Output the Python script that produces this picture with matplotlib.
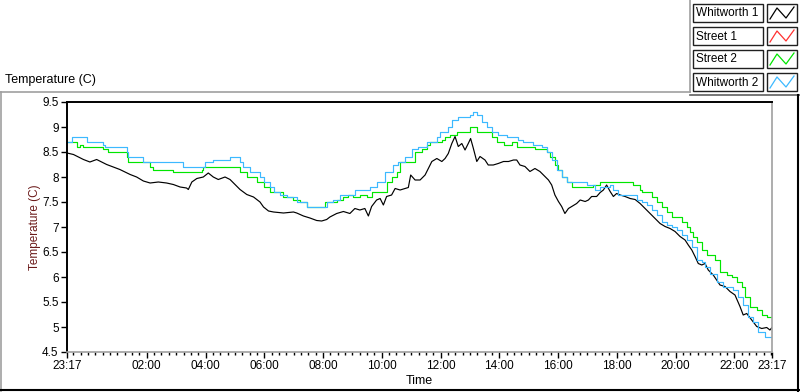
"""Temperature chart: four loggers over one day (LabVIEW-style waveform chart)."""
import matplotlib

matplotlib.use("Agg")
import matplotlib.pyplot as plt  # noqa: E402
import numpy as np  # noqa: E402
from matplotlib.lines import Line2D  # noqa: E402
from matplotlib.patches import Rectangle  # noqa: E402

# ---- data: hours since 23:17 -------------------------------------------
whit1_hours = [0, 0.22, 0.56, 0.78, 1.01, 1.35, 1.58, 1.80, 2.15, 2.37, 2.60, 2.83,
               3.11, 3.39, 3.62, 3.85, 4.07, 4.13, 4.25, 4.42, 4.64, 4.81, 4.98, 5.15,
               5.38, 5.55, 5.72, 5.89, 6.12, 6.35, 6.57, 6.69, 6.86, 7.03, 7.37, 7.71,
               7.82, 8.05, 8.27, 8.50, 8.67, 8.84, 8.95, 9.18, 9.41, 9.63, 9.80, 9.97,
               10.14, 10.26, 10.37, 10.54, 10.66, 10.77, 10.88, 11.05, 11.17, 11.34,
               11.51, 11.62, 11.70, 11.85, 12.02, 12.19, 12.30, 12.42, 12.59, 12.76,
               12.87, 12.98, 13.10, 13.21, 13.32, 13.44, 13.55, 13.66, 13.74, 13.83,
               13.95, 14.06, 14.23, 14.34, 14.51, 14.68, 14.86, 15.03, 15.20, 15.31,
               15.42, 15.59, 15.76, 15.93, 16.10, 16.22, 16.39, 16.50, 16.61, 16.73,
               16.84, 16.95, 17.07, 17.18, 17.35, 17.47, 17.64, 17.75, 17.86, 18.03,
               18.15, 18.26, 18.37, 18.49, 18.60, 18.71, 18.83, 19.00, 19.17, 19.34,
               19.51, 19.68, 19.85, 20.02, 20.19, 20.36, 20.53, 20.70, 20.87, 21.04,
               21.15, 21.27, 21.38, 21.49, 21.61, 21.72, 21.83, 22.00, 22.23, 22.40,
               22.57, 22.74, 22.91, 23.02, 23.14, 23.31, 23.48, 23.65, 23.82, 23.93, 24.0]
whit1_temp = [8.48, 8.45, 8.35, 8.30, 8.35, 8.25, 8.20, 8.15, 8.05, 8.00, 7.92, 7.88,
              7.90, 7.88, 7.85, 7.80, 7.78, 7.75, 7.90, 7.97, 8.00, 8.08, 8.00, 7.95,
              8.00, 7.95, 7.85, 7.75, 7.65, 7.60, 7.50, 7.40, 7.32, 7.30, 7.28, 7.30,
              7.28, 7.22, 7.18, 7.13, 7.12, 7.15, 7.20, 7.27, 7.31, 7.27, 7.37, 7.34,
              7.37, 7.22, 7.41, 7.54, 7.57, 7.44, 7.61, 7.64, 7.77, 7.74,
              7.77, 7.79, 8.04, 7.94, 7.94, 8.04, 8.17, 8.31, 8.37, 8.31,
              8.37, 8.47, 8.67, 8.81, 8.61, 8.67, 8.54, 8.67, 8.77, 8.58,
              8.31, 8.41, 8.34, 8.24, 8.24, 8.27, 8.31, 8.31, 8.34, 8.34,
              8.24, 8.21, 8.11, 8.17, 8.11, 8.04, 7.94, 7.84, 7.64, 7.51,
              7.41, 7.27, 7.37, 7.41, 7.47, 7.54, 7.51, 7.54, 7.61, 7.61,
              7.69, 7.74, 7.84, 7.71, 7.61, 7.67, 7.64, 7.61, 7.57, 7.55,
              7.47, 7.37, 7.27, 7.17, 7.07, 7.01, 6.97, 6.91, 6.81, 6.74,
              6.64, 6.54, 6.41, 6.27, 6.24, 6.27, 6.14, 6.04, 5.84, 5.81,
              5.71, 5.64, 5.41, 5.24, 5.27, 5.14, 5.01, 4.97, 4.99, 4.94, 4.99]

street1_hours = []
street1_temp = []

street2_hours = [0, 0.33, 0.44, 0.56, 1.24, 1.41, 2.03, 2.09, 2.83, 2.94, 3.62, 4.59,
                 4.64, 5.89, 6.12, 6.46, 6.69, 6.91, 7.37, 7.71, 7.93, 8.16, 8.79, 9.18,
                 9.41, 9.58, 9.75, 9.97, 10.20, 10.37, 10.88, 11.05, 11.22, 11.34, 11.85,
                 12.07, 12.25, 12.36, 12.76, 12.87, 13.04, 13.27, 13.72, 13.95, 14.46,
                 14.63, 14.86, 15.14, 15.31, 15.93, 16.33, 16.44, 16.61, 16.73, 16.84,
                 17.01, 17.18, 17.92, 18.15, 19.28, 19.51, 19.56, 19.90, 20.07, 20.24,
                 20.42, 20.59, 20.93, 21.10, 21.21, 21.32, 21.44, 21.61, 21.78, 22.06,
                 22.23, 22.46, 22.63, 22.80, 22.97, 23.08, 23.25, 23.48, 23.65, 23.82, 24.0]
street2_temp = [8.70, 8.60, 8.65, 8.60, 8.55, 8.50, 8.40, 8.30, 8.20, 8.15, 8.10, 8.15,
                8.20, 8.10, 8.00, 7.90, 7.80, 7.70, 7.60, 7.55, 7.50, 7.40, 7.50, 7.55,
                7.60, 7.65, 7.60, 7.65, 7.60, 7.70, 7.90, 8.00, 8.10, 8.30, 8.50,
                8.55, 8.65, 8.70, 8.75, 8.80, 8.85, 8.90, 9.00, 8.90, 8.80,
                8.70, 8.65, 8.70, 8.60, 8.55, 8.50, 8.40, 8.25, 8.15, 8.00,
                7.90, 7.80, 7.85, 7.90, 7.85, 7.75, 7.70, 7.60, 7.50, 7.40,
                7.30, 7.20, 7.10, 7.00, 6.90, 6.80, 6.70, 6.55, 6.45, 6.35,
                6.10, 6.05, 6.00, 5.90, 5.80, 5.60, 5.40, 5.35, 5.25, 5.20, 5.20]

whit2_hours = [0, 0.16, 0.67, 1.24, 1.29, 2.05, 2.09, 2.60, 3.96, 4.70, 4.98, 5.55,
               5.89, 6.00, 6.23, 6.57, 6.69, 6.91, 7.03, 7.25, 7.48, 7.82, 8.16, 8.84,
               9.07, 9.30, 9.80, 10.32, 10.54, 10.83, 11.11, 11.28, 11.51, 11.73, 11.96,
               12.25, 12.59, 12.70, 12.98, 13.10, 13.32, 13.72, 13.83, 13.95, 14.12,
               14.29, 14.46, 14.68, 14.97, 15.37, 15.54, 15.88, 16.16, 16.33, 16.50,
               16.67, 16.84, 17.01, 17.69, 17.98, 18.15, 18.49, 18.60, 18.77, 19.39,
               19.56, 19.73, 19.90, 20.07, 20.24, 20.42, 20.59, 20.76, 20.93, 21.10,
               21.27, 21.44, 21.61, 21.72, 21.89, 22.12, 22.34, 22.68, 22.85, 23.02,
               23.19, 23.36, 23.54, 23.76, 24.0]
whit2_temp = [8.70, 8.80, 8.70, 8.65, 8.60, 8.50, 8.40, 8.30, 8.20, 8.30, 8.35, 8.40,
              8.30, 8.20, 8.10, 8.00, 7.90, 7.80, 7.70, 7.65, 7.60, 7.50, 7.40, 7.50,
              7.55, 7.65, 7.75, 7.80, 7.90, 8.10, 8.25, 8.30, 8.40, 8.55, 8.60,
              8.70, 8.80, 8.90, 9.00, 9.15, 9.20, 9.25, 9.30, 9.25, 9.10,
              9.00, 8.90, 8.85, 8.80, 8.75, 8.70, 8.65, 8.60, 8.50, 8.35,
              8.15, 8.00, 7.90, 7.85, 7.75, 7.80, 7.85, 7.75, 7.65, 7.55,
              7.50, 7.45, 7.35, 7.25, 7.10, 7.05, 7.00, 6.95, 6.85, 6.75,
              6.60, 6.35, 6.30, 6.20, 6.07, 5.90, 5.80, 5.75, 5.60, 5.45,
              5.20, 5.10, 4.90, 4.80, 4.80]

series_names = ["Whitworth 1", "Street 1", "Street 2", "Whitworth 2"]
series_colors = ["#000000", "#ff3030", "#00e600", "#3cb9ff"]

start_clock = "23:17"
tick_labels = ["23:17", "02:00", "04:00", "06:00", "08:00", "10:00", "12:00",
               "14:00", "16:00", "18:00", "20:00", "22:00", "23:17"]
y_ticks = [4.5, 5, 5.5, 6, 6.5, 7, 7.5, 8, 8.5, 9, 9.5]


def clock_to_hours(label):
    h, m = (int(v) for v in label.split(":"))
    h0, m0 = (int(v) for v in start_clock.split(":"))
    return ((h * 60 + m) - (h0 * 60 + m0)) % 1440 / 60


W, H = 800, 392


def fx(x):
    return x / W


def fy(y):
    return 1 - y / H


plt.rcParams["font.family"] = ["Liberation Sans", "DejaVu Sans"]
fig = plt.figure(figsize=(W / 100, H / 100), dpi=100, facecolor="white")

# plot area: x 67..772 px, y 102..352 px
ax = fig.add_axes([fx(67), fy(352), (772 - 67) / W, (352 - 102) / H])
ax.plot(whit1_hours, whit1_temp, color=series_colors[0], lw=0.85)
ax.step(street2_hours, street2_temp, where="post", color=series_colors[2], lw=0.85)
ax.step(whit2_hours, whit2_temp, where="post", color=series_colors[3], lw=0.85)

ax.set_xlim(0, 24)
ax.set_ylim(4.5, 9.5)
ax.set_yticks(y_ticks)
ax.set_yticklabels([f"{v:g}" for v in y_ticks], fontsize=8.5)
tick_pos = [clock_to_hours(t) for t in tick_labels[:-1]] + [24]
ax.set_xticks(tick_pos)
ax.set_xticklabels(tick_labels, fontsize=8.5)
ax.set_xticks(np.arange(13 / 60, 24, 0.25), minor=True)
ax.tick_params(axis="both", direction="out", length=4, width=1, colors="black", pad=2)
ax.tick_params(axis="x", which="minor", length=2.5, width=1)
ax.set_ylabel("Temperature (C)", fontsize=8.5, color="#6b1a1a", labelpad=1)
ax.set_xlabel("Time", fontsize=9, labelpad=2)
for side in ("top", "left"):
    ax.spines[side].set_color("black")
    ax.spines[side].set_linewidth(1.4)
for side in ("bottom", "right"):
    ax.spines[side].set_color("#a0a0a0")
    ax.spines[side].set_linewidth(1.2)

fig.text(fx(5), fy(80), "Temperature (C)", fontsize=9, va="center", ha="left")

# panel frame
frame = dict(transform=fig.transFigure, lw=1.2)
fig.add_artist(Line2D([fx(0), fx(690)], [fy(92), fy(92)], color="#a0a0a0", **frame))
fig.add_artist(Line2D([fx(690), fx(690)], [fy(0), fy(92)], color="#a0a0a0", **frame))
fig.add_artist(Line2D([fx(690), fx(800)], [fy(95), fy(95)], color="#606060", **frame))
fig.add_artist(Line2D([fx(1), fx(1)], [fy(92), fy(391)], color="#a0a0a0", **frame))
fig.add_artist(Line2D([fx(0), fx(800)], [fy(390), fy(390)], color="black", lw=1.5,
                      transform=fig.transFigure))
fig.add_artist(Line2D([fx(798), fx(798)], [fy(95), fy(391)], color="black", lw=1.5,
                      transform=fig.transFigure))

# legend rows
row_tops = [4, 27, 50, 73]
for name, color, top in zip(series_names, series_colors, row_tops):
    fig.add_artist(Rectangle((fx(693), fy(top + 18)), (763 - 693) / W, 18 / H,
                             transform=fig.transFigure, facecolor="white",
                             edgecolor="#202020", lw=1.0))
    fig.text(fx(696), fy(top + 9.5), name, fontsize=8.5, va="center", ha="left")
    fig.add_artist(Rectangle((fx(767), fy(top + 18)), (797 - 767) / W, 18 / H,
                             transform=fig.transFigure, facecolor="white",
                             edgecolor="#202020", lw=1.0))
    zx = [fx(770), fx(777), fx(786), fx(794)]
    zy = [fy(top + 15), fy(top + 4), fy(top + 14), fy(top + 3)]
    fig.add_artist(Line2D(zx, zy, color=color, lw=0.9, transform=fig.transFigure))

fig.savefig("out.png", dpi=100, facecolor="white")
